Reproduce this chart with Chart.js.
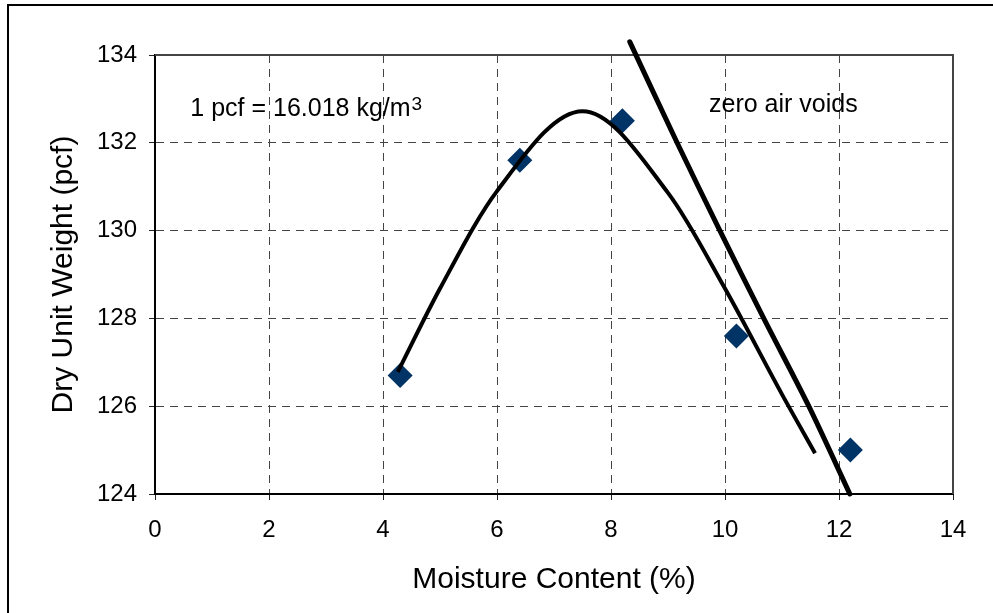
<!DOCTYPE html>
<html lang="en">
<head>
  <meta charset="UTF-8">
  <title>Compaction curve</title>
  <script src="https://cdn.jsdelivr.net/npm/chart.js"></script>
  <style>
    html, body {
      margin: 0;
      padding: 0;
      background: #fff;
    }
    #wrap {
      width: 993px;
      height: 613px;
    }
  </style>
</head>
<body>
<div id="wrap">
  <canvas id="chartCanvas" width="993" height="613"></canvas>
</div>

<script>
// measured points
const moisture = [4.3, 6.4, 8.2, 10.2, 12.2];
const dryUnitWeight = [126.7, 131.6, 132.5, 127.6, 125.0];

// fitted compaction curve
const curveMoisture = [4.26, 5.0, 6.0, 7.5, 9.0, 10.0, 11.0, 11.58];
const curveWeight = [126.78, 128.68, 130.9, 132.72, 130.86, 128.68, 126.27, 124.93];

// zero air voids line
const zavMoisture = [8.33, 9.16, 9.91, 10.68, 11.47, 12.19];
const zavWeight = [134.3, 132.0, 130.0, 128.0, 126.0, 124.0];

const xTicks = [0, 2, 4, 6, 8, 10, 12, 14];
const yTicks = [124, 126, 128, 130, 132, 134];

const FONT = "'Liberation Sans', Arial, sans-serif";

function toPoints(xs, ys) {
  return xs.map((x, i) => ({ x: x, y: ys[i] }));
}

const frame = {
  id: 'frame',
  beforeDraw(chart) {
    const ctx = chart.ctx;
    ctx.save();
    ctx.fillStyle = '#fff';
    ctx.fillRect(0, 0, chart.width, chart.height);
    ctx.strokeStyle = '#000';
    ctx.lineWidth = 2;
    ctx.beginPath();
    ctx.moveTo(8, chart.height + 2);
    ctx.lineTo(8, 5);
    ctx.lineTo(chart.width + 2, 5);
    ctx.stroke();
    ctx.restore();
  },
  beforeDatasetsDraw(chart) {
    const { ctx, chartArea: a } = chart;
    ctx.save();
    ctx.strokeStyle = '#444';
    ctx.lineWidth = 2;
    ctx.beginPath();
    ctx.moveTo(a.left, a.top);
    ctx.lineTo(a.right, a.top);
    ctx.lineTo(a.right, a.bottom);
    ctx.stroke();
    ctx.restore();
  },
  afterDraw(chart) {
    const ctx = chart.ctx;
    const xs = chart.scales.x, ys = chart.scales.y;
    ctx.save();
    ctx.fillStyle = '#000';
    ctx.textBaseline = 'alphabetic';
    ctx.textAlign = 'left';
    ctx.font = '25px ' + FONT;
    const nx = xs.getPixelForValue(0.62), ny = ys.getPixelForValue(132.61);
    const main = '1 pcf = 16.018 kg/m';
    ctx.fillText(main, nx, ny);
    const w = ctx.measureText(main).width;
    ctx.font = '19px ' + FONT;
    ctx.fillText('3', nx + w + 1, ny - 6);
    ctx.font = '25px ' + FONT;
    ctx.fillText('zero air voids', xs.getPixelForValue(9.72), ys.getPixelForValue(132.7));
    ctx.restore();
  }
};

const ctx = document.getElementById('chartCanvas').getContext('2d');
new Chart(ctx, {
  type: 'scatter',
  data: {
    datasets: [
      {
        label: 'Fitted curve',
        data: toPoints(curveMoisture, curveWeight),
        showLine: true,
        borderColor: '#000',
        borderWidth: 4,
        pointRadius: 0,
        cubicInterpolationMode: 'monotone',
        order: 1
      },
      {
        label: 'zero air voids',
        data: toPoints(zavMoisture, zavWeight),
        showLine: true,
        borderColor: '#000',
        borderWidth: 5,
        borderCapStyle: 'round',
        pointRadius: 0,
        tension: 0.3,
        clip: false,
        order: 2
      },
      {
        label: 'Test data',
        data: toPoints(moisture, dryUnitWeight),
        pointStyle: 'rectRot',
        pointRadius: 12.5,
        pointBorderWidth: 0,
        backgroundColor: '#003366',
        borderColor: '#003366',
        order: 3
      }
    ]
  },
  options: {
    responsive: false,
    animation: false,
    layout: { padding: { top: 55, right: 40, left: 0, bottom: 0 } },
    plugins: {
      legend: { display: false },
      tooltip: { enabled: false }
    },
    scales: {
      x: {
        type: 'linear',
        min: 0,
        max: 14,
        afterBuildTicks(scale) { scale.ticks = xTicks.map(v => ({ value: v })); },
        afterFit(scale) { scale.height = 119; },
        grid: {
          color: '#444',
          lineWidth: 1,
          tickLength: 6,
          tickColor: '#222',
          tickWidth: 1
        },
        border: { display: true, color: '#000', width: 2, dash: [8, 6] },
        ticks: {
          color: '#000',
          padding: 16,
          font: { family: FONT, size: 24 }
        },
        title: {
          display: true,
          text: 'Moisture Content (%)',
          color: '#000',
          padding: { top: 0, bottom: 15.6 },
          font: { family: FONT, size: 30 }
        }
      },
      y: {
        type: 'linear',
        min: 124,
        max: 134,
        afterBuildTicks(scale) { scale.ticks = yTicks.map(v => ({ value: v })); },
        afterFit(scale) { scale.width = 155; },
        grid: {
          color: '#444',
          lineWidth: 1,
          tickLength: 6,
          tickColor: '#222',
          tickWidth: 1
        },
        border: { display: true, color: '#000', width: 2, dash: [8, 6] },
        ticks: {
          color: '#000',
          padding: 12,
          font: { family: FONT, size: 24 }
        },
        title: {
          display: true,
          text: 'Dry Unit Weight (pcf)',
          color: '#000',
          padding: { top: 46, bottom: 0 },
          font: { family: FONT, size: 30 }
        }
      }
    }
  },
  plugins: [frame]
});
</script>
</body>
</html>
